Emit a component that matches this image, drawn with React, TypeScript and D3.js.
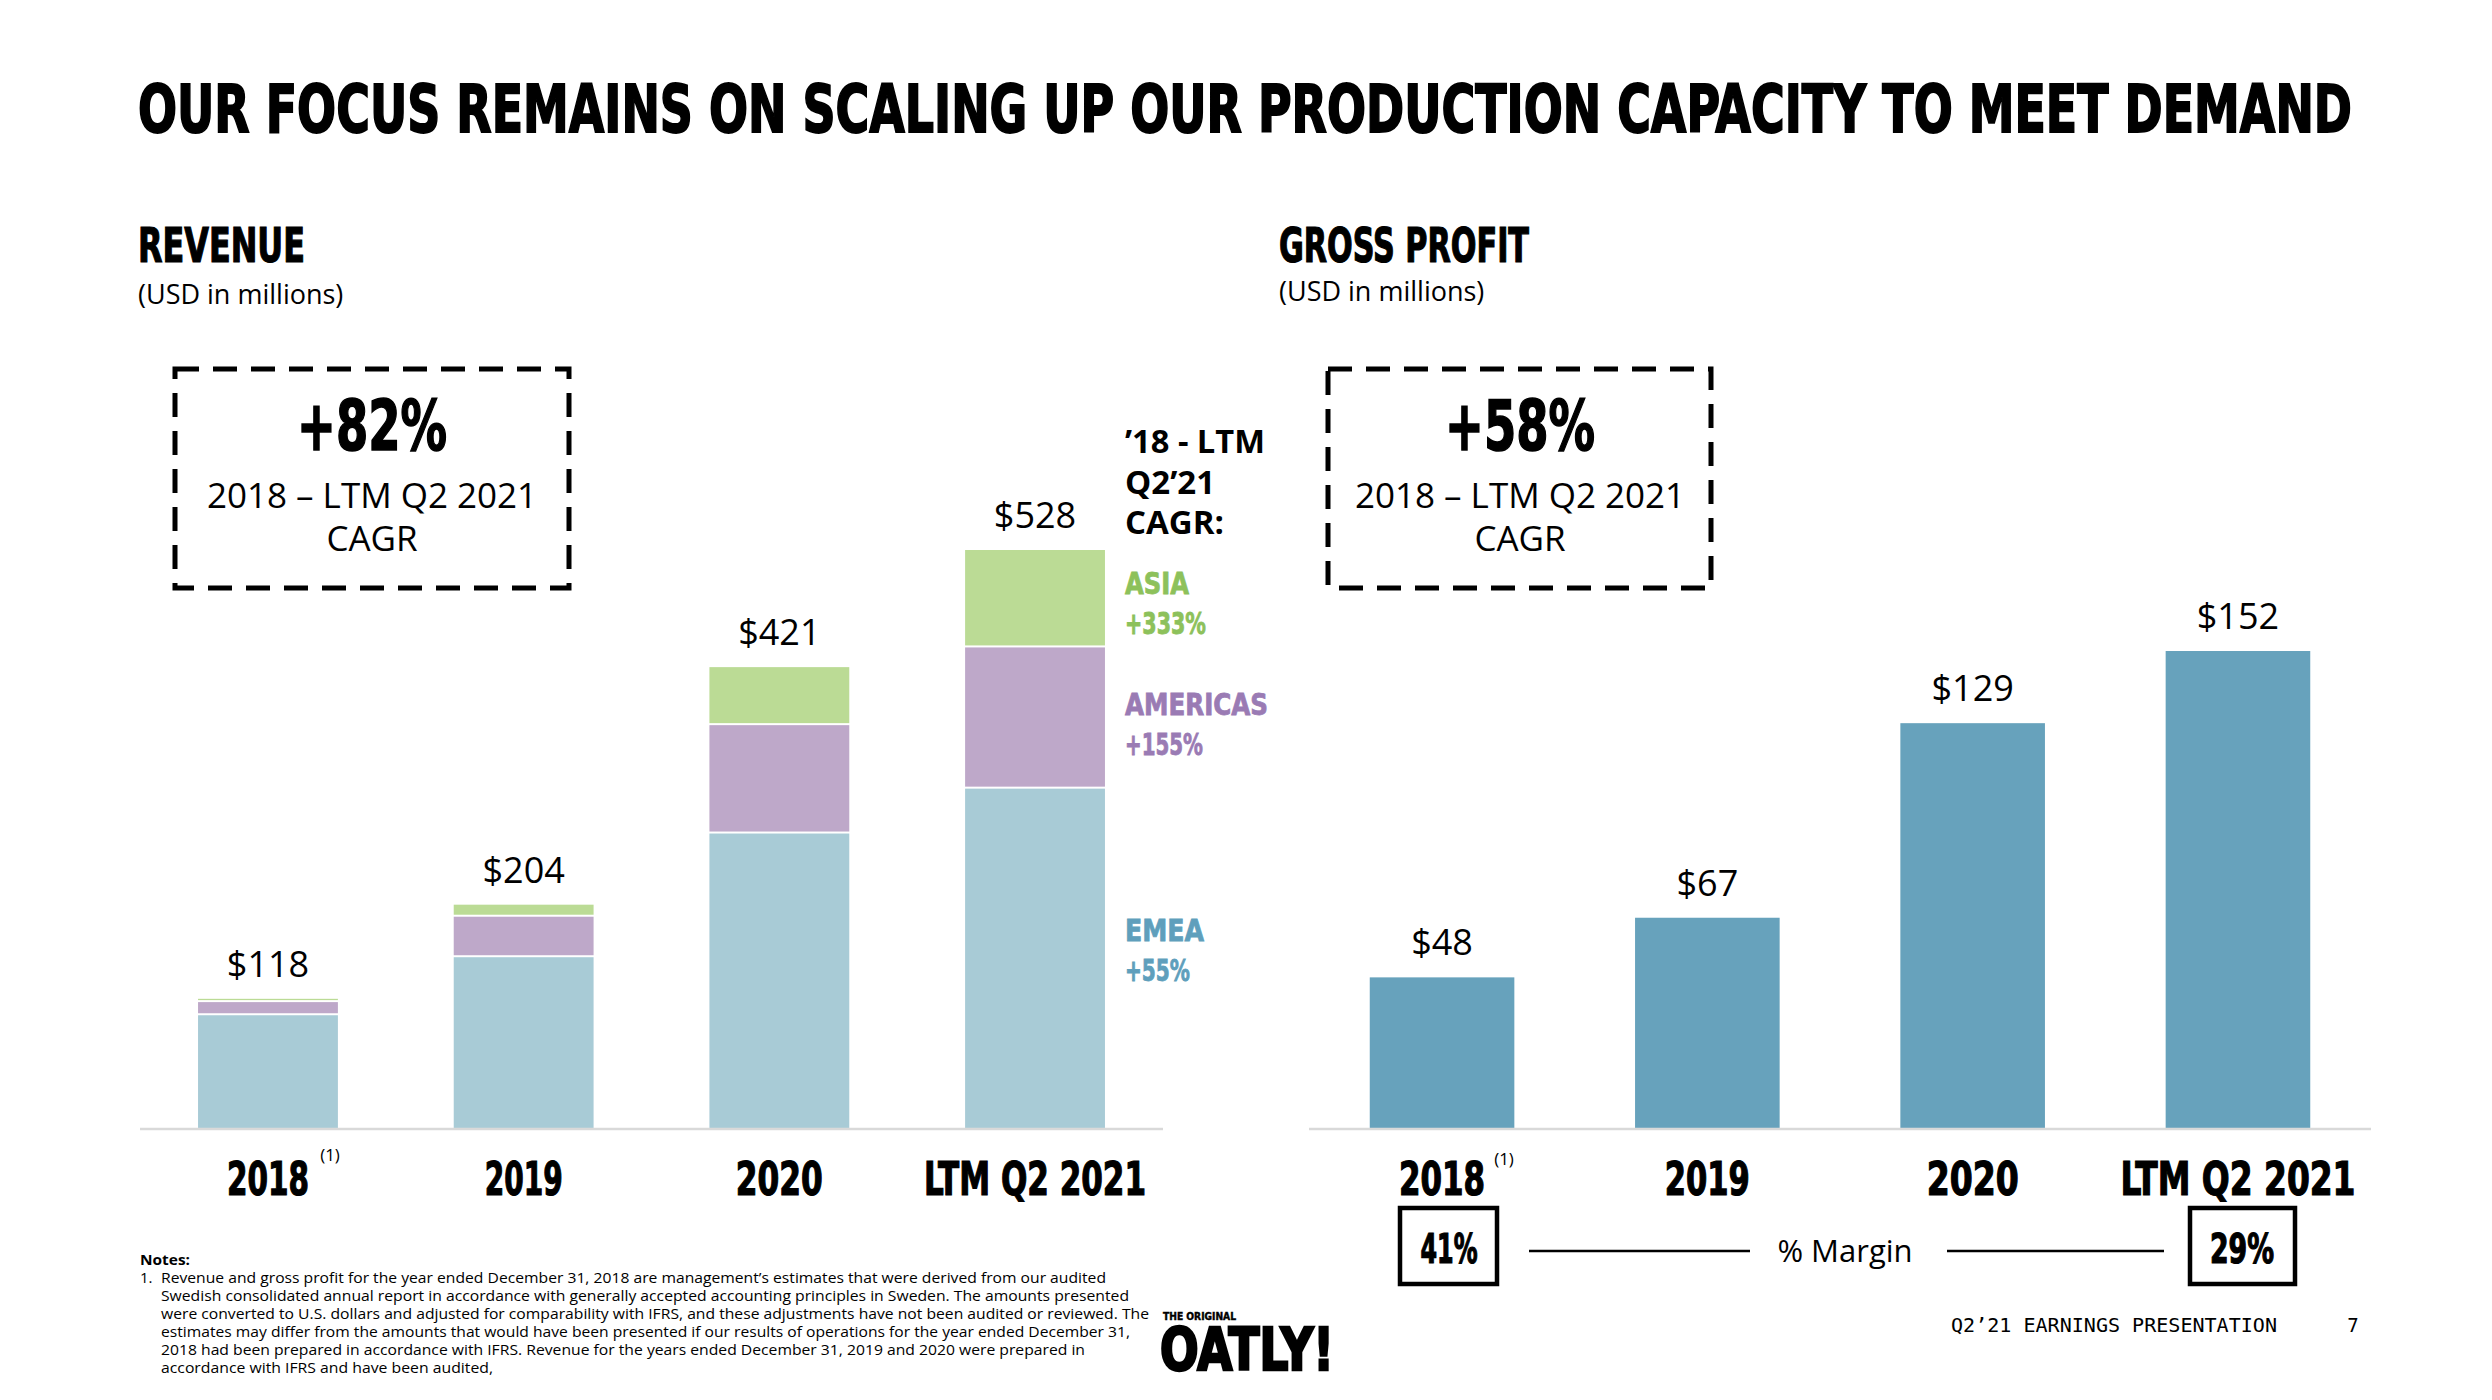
import * as d3 from "d3"

// Data
const categories = ["2018", "2019", "2020", "LTM Q2 2021"]
const emea = [103, 156, 269, 310]
const americas = [12, 37, 99, 129]
const asia = [3, 11, 53, 89]
const revenueTotals = [118, 204, 421, 528]
const grossProfit = [48, 67, 129, 152]
const regionNames = ["ASIA", "AMERICAS", "EMEA"]
const regionGrowth = ["+333%", "+155%", "+55%"]
const marginLabels = ["41%", "29%"]
const noteLines = [
  "Revenue and gross profit for the year ended December 31, 2018 are management’s estimates that were derived from our audited",
  "Swedish consolidated annual report in accordance with generally accepted accounting principles in Sweden. The amounts presented",
  "were converted to U.S. dollars and adjusted for comparability with IFRS, and these adjustments have not been audited or reviewed. The",
  "estimates may differ from the amounts that would have been presented if our results of operations for the year ended December 31,",
  "2018 had been prepared in accordance with IFRS. Revenue for the years ended December 31, 2019 and 2020 were prepared in",
  "accordance with IFRS and have been audited,",
]

const W = 2492
const H = 1400
const heavy = "'Liberation Sans Narrow', 'DejaVu Sans Condensed', sans-serif"
const regular = "'Open Sans', 'Noto Sans', sans-serif"
const colors = { emea: "#a8cbd6", americas: "#bea8c9", asia: "#bbdb95", gp: "#67a2bc" }
const labelColors = ["#8dc15b", "#9a7bb4", "#5f9fbc"]

function Heavy(props: any) {
  const { children, fill = "#000", sw = 1.2, ...rest } = props
  return (
    <text fontFamily={heavy} fontWeight={700} fill={fill} stroke={fill} strokeWidth={sw}
      lengthAdjust="spacingAndGlyphs" {...rest}>
      {children}
    </text>
  )
}

export default function App() {
  const baseY = 1128

  // Revenue scales
  const xL = d3.scaleBand().domain(categories).range([140, 1163]).paddingInner(0.453).paddingOuter(0.227)
  const yL = d3.scaleLinear().domain([0, 528]).range([baseY, 550])
  const rows = categories.map((c, i) => ({ cat: c, emea: emea[i], americas: americas[i], asia: asia[i] }))
  const stacked = d3.stack<any>().keys(["emea", "americas", "asia"])(rows)

  // Gross profit scales
  const xR = d3.scaleBand().domain(categories).range([1309, 2371]).paddingInner(0.455).paddingOuter(0.229)
  const yR = d3.scaleLinear().domain([0, 152]).range([baseY, 651])

  const leftYearLen = [82, 78, 87, 222]
  const rightYearLen = [86, 85, 92, 235]
  const regionY = [594, 715, 941]
  const regionNameLen = [64, 143, 79]
  const regionGrowthLen = [81, 78, 65]
  const noteEnds = [1106, 1129, 1149, 1130, 1085, 493]

  return (
    <svg width={W} height={H} style={{ position: "absolute", left: 0, top: 0, background: "#fff" }}>
      <rect width={W} height={H} fill="#fff" />

      {/* Title */}
      <Heavy x={138} y={132} fontSize={66} textLength={2214} sw={1.8}>
        OUR FOCUS REMAINS ON SCALING UP OUR PRODUCTION CAPACITY TO MEET DEMAND
      </Heavy>

      {/* Panel headings */}
      <Heavy x={138} y={262} fontSize={48} textLength={167}>REVENUE</Heavy>
      <text x={138} y={304} fontFamily={regular} fontSize={27}>(USD in millions)</text>
      <Heavy x={1279} y={262} fontSize={48} textLength={250}>GROSS PROFIT</Heavy>
      <text x={1279} y={301} fontFamily={regular} fontSize={27}>(USD in millions)</text>

      {/* CAGR boxes */}
      {[
        { x0: 175, x1: 569, cx: 372, big: "+82%", bigLen: 150 },
        { x0: 1328, x1: 1711, cx: 1520, big: "+58%", bigLen: 150 },
      ].map((b) => (
        <g key={b.big}>
          <rect x={b.x0} y={369} width={b.x1 - b.x0} height={219} fill="none" stroke="#000"
            strokeWidth={5} strokeDasharray="24 14" />
          <Heavy x={b.cx} y={450} fontSize={70} textAnchor="middle" textLength={b.bigLen} sw={1.5}>{b.big}</Heavy>
          <text x={b.cx} y={508} fontFamily={regular} fontSize={35} textAnchor="middle">2018 – LTM Q2 2021</text>
          <text x={b.cx} y={551} fontFamily={regular} fontSize={35} textAnchor="middle">CAGR</text>
        </g>
      ))}

      {/* Revenue stacked bars */}
      {stacked.map((layer, li) => (
        <g key={layer.key} fill={(colors as any)[layer.key]}>
          {layer.map((d, i) => {
            const y0 = yL(d[0])
            const y1 = yL(d[1])
            const gap = li > 0 ? 2 : 0
            return (
              <rect key={i} x={xL(categories[i])} y={y1} width={xL.bandwidth()}
                height={Math.max(0.8, y0 - y1 - gap)} />
            )
          })}
        </g>
      ))}
      {revenueTotals.map((v, i) => (
        <text key={i} x={(xL(categories[i]) as number) + xL.bandwidth() / 2} y={yL(v) - 22}
          fontFamily={regular} fontSize={36} textAnchor="middle">${v}</text>
      ))}
      <line x1={140} x2={1163} y1={baseY + 1} y2={baseY + 1} stroke="#d9d9d9" strokeWidth={2.5} />
      {categories.map((c, i) => (
        <Heavy key={c} x={(xL(c) as number) + xL.bandwidth() / 2} y={1195} fontSize={46}
          textAnchor="middle" textLength={leftYearLen[i]}>{c}</Heavy>
      ))}
      <text x={330} y={1161} fontFamily={regular} fontSize={17} textAnchor="middle">(1)</text>

      {/* Region CAGR annotations */}
      <text x={1125} y={453} fontFamily={regular} fontWeight={700} fontSize={33} textLength={140}
        lengthAdjust="spacingAndGlyphs">’18 - LTM</text>
      <text x={1125} y={494} fontFamily={regular} fontWeight={700} fontSize={33}>Q2’21</text>
      <text x={1125} y={534} fontFamily={regular} fontWeight={700} fontSize={33}>CAGR:</text>
      {regionNames.map((r, i) => (
        <g key={r}>
          <Heavy x={1125} y={regionY[i]} fontSize={31} fill={labelColors[i]} sw={0.8}
            textLength={regionNameLen[i]}>{r}</Heavy>
          <Heavy x={1125} y={regionY[i] + 40} fontSize={31} fill={labelColors[i]} sw={0.8}
            textLength={regionGrowthLen[i]}>{regionGrowth[i]}</Heavy>
        </g>
      ))}

      {/* Gross profit bars */}
      {grossProfit.map((v, i) => (
        <g key={i}>
          <rect x={xR(categories[i])} y={yR(v)} width={xR.bandwidth()} height={baseY - yR(v)} fill={colors.gp} />
          <text x={(xR(categories[i]) as number) + xR.bandwidth() / 2} y={yR(v) - 22}
            fontFamily={regular} fontSize={36} textAnchor="middle">${v}</text>
        </g>
      ))}
      <line x1={1309} x2={2371} y1={baseY + 1} y2={baseY + 1} stroke="#d9d9d9" strokeWidth={2.5} />
      {categories.map((c, i) => (
        <Heavy key={c} x={(xR(c) as number) + xR.bandwidth() / 2} y={1195} fontSize={46}
          textAnchor="middle" textLength={rightYearLen[i]}>{c}</Heavy>
      ))}
      <text x={1504} y={1165} fontFamily={regular} fontSize={17} textAnchor="middle">(1)</text>

      {/* Margin row */}
      <rect x={1400} y={1208} width={97} height={76} fill="none" stroke="#000" strokeWidth={4.5} />
      <Heavy x={1449} y={1263} fontSize={40} textAnchor="middle" textLength={57}>{marginLabels[0]}</Heavy>
      <rect x={2190} y={1208} width={105} height={76} fill="none" stroke="#000" strokeWidth={4.5} />
      <Heavy x={2242} y={1263} fontSize={40} textAnchor="middle" textLength={64}>{marginLabels[1]}</Heavy>
      <line x1={1529} x2={1750} y1={1251} y2={1251} stroke="#000" strokeWidth={2.5} />
      <line x1={1947} x2={2164} y1={1251} y2={1251} stroke="#000" strokeWidth={2.5} />
      <text x={1845} y={1262} fontFamily={regular} fontSize={31} textAnchor="middle">% Margin</text>

      {/* Notes */}
      <text x={140} y={1265} fontFamily={regular} fontWeight={700} fontSize={15} textLength={50}
        lengthAdjust="spacingAndGlyphs">Notes:</text>
      <text x={140} y={1283} fontFamily={regular} fontSize={15}>1.</text>
      {noteLines.map((l, i) => (
        <text key={i} x={161} y={1283 + 18 * i} fontFamily={regular} fontSize={15}
          textLength={noteEnds[i] - 161} lengthAdjust="spacingAndGlyphs">{l}</text>
      ))}

      {/* Logo */}
      <Heavy x={1163} y={1320} fontSize={10} textLength={73} sw={0.4}>THE ORIGINAL</Heavy>
      <Heavy x={1160} y={1370} fontSize={58} textLength={174} sw={2.5}>OATLY!</Heavy>

      {/* Footer */}
      <text x={1951} y={1332} fontFamily="'DejaVu Sans Mono', monospace" fontSize={19} textLength={326}
        lengthAdjust="spacingAndGlyphs">Q2’21 EARNINGS PRESENTATION</text>
      <text x={2353} y={1332} fontFamily="'DejaVu Sans Mono', monospace" fontSize={19} textAnchor="middle">7</text>
    </svg>
  )
}
